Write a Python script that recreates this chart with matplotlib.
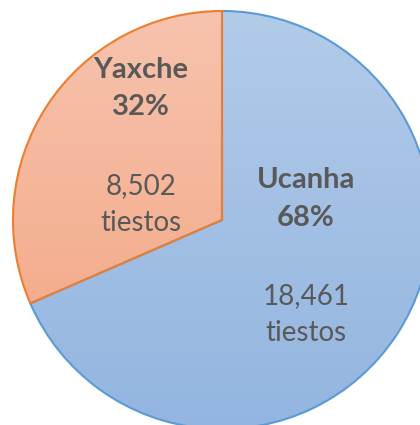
import numpy as np
import matplotlib
matplotlib.use("Agg")
import matplotlib.pyplot as plt
from matplotlib.colors import LinearSegmentedColormap

sites = ["Ucanha", "Yaxche"]
sherds = [18461, 8502]

edge_colors = ["#5b9bd5", "#ed7d31"]
grad_colors = [("#b2cbe9", "#93b5e0"), ("#f7c3ae", "#f3a47f")]
# anchor of each label block (top line), in pie-radius units
label_xy = [(0.402, 0.191), (-0.388, 0.718)]

R_PX = 209
fig = plt.figure(figsize=(4.2, 4.25), dpi=100)
ax = fig.add_axes([0, 0, 1, 1])
ax.set_aspect("equal")
ax.axis("off")

wedges, _ = ax.pie(sherds, startangle=90, counterclock=False, radius=1,
                   wedgeprops=dict(linewidth=1.5))

total = sum(sherds)
grad = np.linspace(1, 0, 256).reshape(-1, 1)
for w, ec, (c_top, c_bot) in zip(wedges, edge_colors, grad_colors):
    w.set_facecolor("none")
    w.set_edgecolor(ec)
    w.set_zorder(3)
    cmap = LinearSegmentedColormap.from_list("g", [c_bot, c_top])
    im = ax.imshow(grad, cmap=cmap, extent=(-1, 1, -1, 1), origin="upper",
                   aspect="auto", zorder=2, interpolation="bicubic")
    im.set_clip_path(w)

ax.set_xlim(-222 / R_PX, 198 / R_PX)
ax.set_ylim(-205 / R_PX, 220 / R_PX)

font = "Lato"
offs_px = [0, 37.5, 116, 153]
for name, n, (x, y) in zip(sites, sherds, label_xy):
    pct = f"{round(100 * n / total)}%"
    lines = [(name, "bold", 21), (pct, "bold", 21),
             (f"{n:,}", "normal", 20), ("tiestos", "normal", 20)]
    for (txt, wt, fs), o in zip(lines, offs_px):
        ax.text(x, y - o / R_PX, txt, ha="center", va="center", fontsize=fs,
                fontweight=wt, color="#595959", family=font, zorder=5)

fig.savefig("out.png", dpi=100)
